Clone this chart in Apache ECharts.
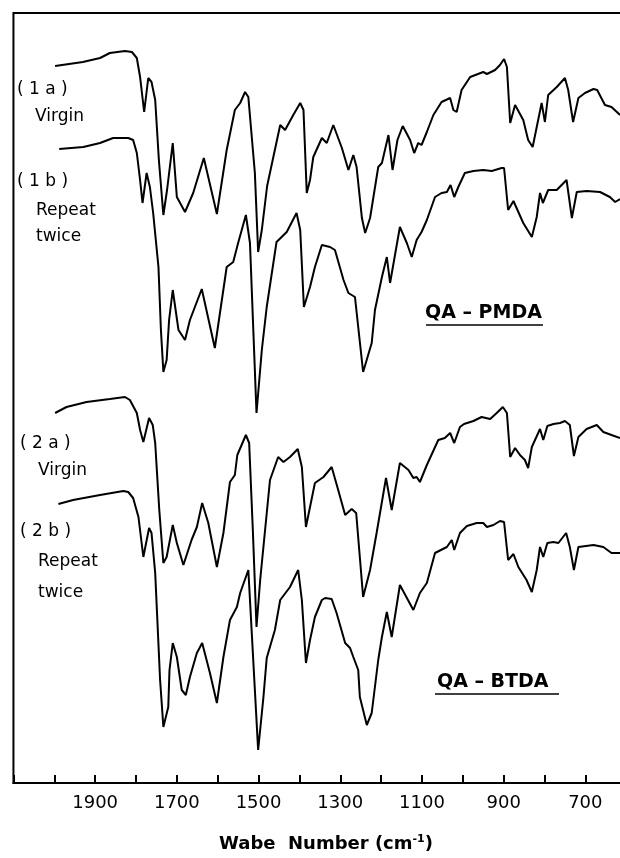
<!DOCTYPE html>
<html>
<head>
<meta charset="utf-8">
<title>IR spectra QA-PMDA / QA-BTDA</title>
<script src="https://cdn.jsdelivr.net/npm/echarts@6/dist/echarts.min.js"></script>
<style>
  html, body { margin: 0; padding: 0; background: #fff; overflow: hidden; }
  #chart { width: 620px; height: 858px; }
</style>
</head>
<body>
<div id="chart"></div>
<script>
// Wavenumber axis (cm-1), drawn high -> low; the frame runs past the right edge
const xMin = 500;
const xMax = 2100;
const tickStep = 100;
const labelledTicks = [1900, 1700, 1500, 1300, 1100, 900, 700];

// Offset transmittance traces, [wavenumber, trace height]
const pmdaVirgin = [
  [1998,71.7],[1930,72.1],[1888,72.5],[1864,73.0],[1827,73.2],[1810,73.1],[1798,72.5],[1790,70.6],
  [1780,67.1],[1770,70.5],[1762,70.1],[1753,68.3],[1744,62.3],[1733,56.8],[1724,59.3],[1710,64.0],
  [1700,58.6],[1680,57.1],[1660,59.0],[1634,62.5],[1602,56.9],[1578,63.3],[1558,67.3],[1545,68.0],
  [1533,69.1],[1525,68.6],[1509,61.0],[1501,53.1],[1492,55.3],[1479,59.7],[1447,65.8],[1435,65.3],
  [1415,66.8],[1398,68.0],[1390,67.3],[1382,59.0],[1374,60.3],[1366,62.6],[1345,64.5],[1333,64.0],
  [1317,65.8],[1296,63.5],[1280,61.3],[1268,62.8],[1260,61.6],[1247,56.5],[1239,55.0],[1227,56.5],
  [1207,61.6],[1198,62.0],[1182,64.8],[1172,61.3],[1160,64.3],[1147,65.7],[1129,64.3],[1119,63.0],
  [1109,64.0],[1101,63.8],[1088,65.1],[1072,66.8],[1052,68.1],[1031,68.5],[1023,67.3],[1015,67.1],
  [1003,69.3],[982,70.6],[950,71.1],[941,70.9],[921,71.3],[909,71.8],[899,72.4],[892,71.6],
  [884,66.0],[872,67.8],[852,66.3],[840,64.3],[829,63.6],[819,65.6],[807,68.0],[799,66.1],
  [791,68.8],[770,69.6],[750,70.5],[742,69.3],[730,66.1],[717,68.5],[701,69.0],[680,69.4],
  [671,69.3],[652,67.8],[636,67.6],[615,66.8]
];

const pmdaRepeat = [
  [1988,63.4],[1929,63.6],[1888,64.0],[1856,64.5],[1819,64.5],[1807,64.3],[1798,63.0],[1790,60.3],
  [1784,58.0],[1774,61.0],[1766,59.6],[1758,57.0],[1745,51.6],[1739,45.3],[1733,41.1],[1725,42.3],
  [1719,46.3],[1710,49.3],[1696,45.3],[1680,44.3],[1668,46.3],[1639,49.4],[1607,43.5],[1578,51.6],
  [1562,52.1],[1550,54.0],[1531,56.8],[1521,54.0],[1505,37.0],[1492,43.3],[1480,47.6],[1456,54.1],
  [1431,55.1],[1407,57.0],[1398,55.3],[1389,47.6],[1374,49.6],[1362,51.6],[1345,53.8],[1325,53.6],
  [1313,53.3],[1292,50.3],[1280,49.0],[1264,48.6],[1244,41.1],[1223,44.0],[1215,47.3],[1198,50.6],
  [1186,52.6],[1178,50.0],[1154,55.6],[1137,54.0],[1125,52.6],[1113,54.3],[1101,55.1],[1088,56.3],
  [1068,58.6],[1052,59.0],[1039,59.1],[1030,59.8],[1021,58.6],[1011,59.6],[995,61.0],[974,61.2],
  [950,61.3],[929,61.2],[905,61.5],[899,61.5],[889,57.3],[876,58.2],[852,56.0],[831,54.6],
  [819,56.6],[811,59.0],[804,58.0],[791,59.3],[770,59.3],[746,60.3],[733,56.5],[721,59.1],
  [697,59.2],[664,59.1],[640,58.6],[627,58.1],[615,58.4]
];

const btdaVirgin = [
  [1998,37.0],[1970,37.6],[1921,38.1],[1864,38.4],[1827,38.6],[1815,38.3],[1798,37.0],[1790,35.3],
  [1782,34.1],[1768,36.5],[1759,35.8],[1753,34.0],[1743,27.3],[1733,22.0],[1725,22.6],[1710,25.8],
  [1700,24.0],[1684,21.8],[1664,24.3],[1651,25.6],[1638,28.0],[1623,26.0],[1602,21.6],[1586,25.0],
  [1570,30.1],[1558,30.8],[1552,32.8],[1531,34.8],[1523,34.0],[1514,25.3],[1505,15.6],[1496,20.3],
  [1472,30.3],[1452,32.6],[1439,32.1],[1423,32.6],[1404,33.4],[1394,31.6],[1384,25.6],[1374,27.6],
  [1362,30.0],[1341,30.6],[1321,31.6],[1305,29.3],[1288,26.8],[1272,27.4],[1261,27.0],[1244,18.6],
  [1227,21.3],[1211,25.0],[1188,30.5],[1174,27.3],[1154,32.0],[1133,31.3],[1121,30.5],[1113,30.6],
  [1105,30.1],[1088,31.8],[1060,34.3],[1044,34.5],[1031,35.0],[1021,34.0],[1007,35.6],[997,35.9],
  [974,36.2],[954,36.6],[933,36.4],[917,37.0],[902,37.6],[892,37.0],[884,32.6],[872,33.5],
  [860,32.8],[848,32.3],[840,31.5],[831,33.6],[811,35.4],[803,34.3],[793,35.7],[778,35.9],
  [762,36.0],[750,36.2],[738,35.8],[728,32.7],[717,34.6],[697,35.4],[672,35.8],[656,35.1],
  [636,34.8],[615,34.5]
];

const btdaRepeat = [
  [1990,27.9],[1954,28.3],[1888,28.8],[1831,29.2],[1819,29.1],[1807,28.5],[1794,26.6],[1782,22.6],
  [1768,25.5],[1762,25.0],[1753,21.0],[1741,10.3],[1733,5.6],[1721,7.6],[1718,11.3],[1710,14.0],
  [1700,12.6],[1688,9.3],[1678,8.8],[1668,10.6],[1651,13.0],[1638,14.0],[1619,11.0],[1602,8.0],
  [1586,12.6],[1570,16.3],[1553,17.6],[1545,19.0],[1525,21.3],[1501,3.3],[1488,8.6],[1480,12.5],
  [1460,15.3],[1447,18.3],[1423,19.6],[1403,21.3],[1394,18.3],[1384,12.0],[1374,14.3],[1362,16.6],
  [1345,18.3],[1337,18.5],[1321,18.4],[1309,17.0],[1288,14.0],[1276,13.5],[1268,12.6],[1256,11.3],
  [1252,8.6],[1235,5.8],[1223,7.0],[1207,12.3],[1198,14.6],[1186,17.1],[1174,14.6],[1154,19.8],
  [1121,17.3],[1105,19.0],[1088,20.0],[1068,23.0],[1039,23.6],[1027,24.3],[1021,23.3],[1007,25.0],
  [990,25.7],[966,26.0],[950,26.0],[941,25.6],[925,25.8],[909,26.2],[899,26.1],[889,22.3],
  [876,22.9],[864,21.6],[844,20.3],[831,19.1],[819,21.3],[811,23.6],[803,22.6],[793,24.0],
  [778,24.1],[766,24.0],[747,25.0],[738,23.6],[728,21.3],[717,23.6],[680,23.8],[656,23.6],
  [636,23.0],[615,23.0]
];

const traceNames = ['(1a) Virgin', '(1b) Repeat twice', '(2a) Virgin', '(2b) Repeat twice'];
const traces = [pmdaVirgin, pmdaRepeat, btdaVirgin, btdaRepeat];

const FONT = '"DejaVu Sans", Lato, sans-serif';

const chart = echarts.init(document.getElementById('chart'), null, { renderer: 'canvas' });

// Free-standing text, anchored at its left edge and vertical centre
function label(text, x, y, size, weight) {
  return {
    type: 'text', x: x, y: y, z: 10,
    style: { text: text, fontFamily: FONT, fontSize: size, fontWeight: weight || 'normal',
             fill: '#000', align: 'left', verticalAlign: 'middle' }
  };
}

function rule(x1, x2, y) {
  return { type: 'line', z: 10, shape: { x1: x1, y1: y, x2: x2, y2: y },
           style: { stroke: '#000', lineWidth: 1.6 } };
}

chart.setOption({
  animation: false,
  backgroundColor: '#fff',
  grid: { left: 13.45, top: 13, width: 653.6, height: 770, show: true,
          containLabel: false, outerBoundsMode: 'none',
          borderColor: '#000', borderWidth: 2, backgroundColor: 'transparent' },
  xAxis: {
    type: 'value', min: xMin, max: xMax, interval: tickStep, inverse: true,
    axisLine: { show: true, lineStyle: { color: '#000', width: 2 } },
    axisTick: { show: true, inside: true, length: 8, lineStyle: { color: '#000', width: 2 } },
    splitLine: { show: false },
    axisLabel: {
      color: '#000', fontSize: 18, fontFamily: FONT, margin: 11, hideOverlap: false,
      formatter: v => labelledTicks.indexOf(v) >= 0 ? String(v) : ''
    }
  },
  yAxis: { type: 'value', min: 0, max: 77, show: false },
  series: traces.map((d, i) => ({
    name: traceNames[i], type: 'line', data: d, showSymbol: false, smooth: false,
    lineStyle: { color: '#000', width: 2 }, z: 3
  })),
  graphic: [
    label('( 1 a )', 17, 90, 17),
    label('Virgin', 35, 117, 17),
    label('( 1 b )', 17, 182, 17),
    label('Repeat', 36, 211, 17),
    label('twice', 36, 237, 17),
    label('( 2 a )', 20, 444, 17),
    label('Virgin', 38, 471, 17),
    label('( 2 b )', 20, 532, 17),
    label('Repeat', 38, 562, 17),
    label('twice', 38, 593, 17),
    label('QA – PMDA', 425, 313, 19, 'bold'),
    rule(426, 543, 325),
    label('QA – BTDA', 437, 682, 19, 'bold'),
    rule(435, 559, 694),
    {
      type: 'text', x: 326, y: 844, z: 10,
      style: {
        text: 'Wabe  Number (cm{sup|-1})', fontFamily: FONT, fontSize: 18, fontWeight: 'bold',
        fill: '#000', align: 'center', verticalAlign: 'middle',
        rich: { sup: { fontFamily: FONT, fontSize: 11, fontWeight: 'bold', verticalAlign: 'top',
                       padding: [0, 0, 9, 0] } }
      }
    }
  ]
});
</script>
</body>
</html>
